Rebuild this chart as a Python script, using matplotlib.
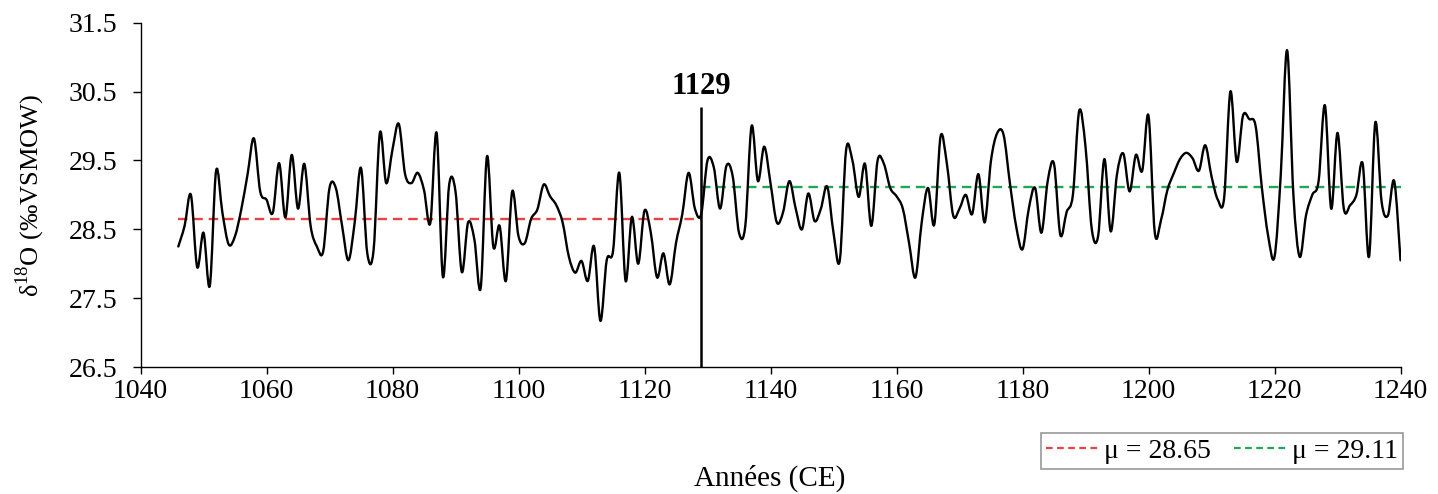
import numpy as np
import matplotlib
matplotlib.use("Agg")
import matplotlib.pyplot as plt
from matplotlib.path import Path
from matplotlib.patches import PathPatch
from matplotlib.lines import Line2D

plt.rcParams['font.family'] = ['Liberation Serif', 'DejaVu Serif']
plt.rcParams['mathtext.fontset'] = 'custom'
plt.rcParams['mathtext.rm'] = 'Liberation Serif'

# ---- data ----
start_year = 1046
d18o = [
    28.25, 28.55, 29.00, 27.95,
    28.45, 27.68, 29.35, 28.74, 28.28, 28.40, 28.79, 29.30, 29.82, 29.05,
    28.93, 28.74, 29.46, 28.67, 29.58, 28.80, 29.45, 28.55, 28.25, 28.18,
    29.10, 29.10, 28.55, 28.05, 28.60, 29.39, 28.15, 28.20, 29.90, 29.17,
    29.66, 30.03, 29.30, 29.17, 29.32, 29.07, 28.59, 29.90, 27.81, 29.15,
    29.05, 27.88, 28.60, 28.35, 27.65, 29.56, 28.25, 28.55, 27.75, 29.05,
    28.40, 28.30, 28.65, 28.79, 29.15, 28.98, 28.85, 28.60, 28.10, 27.87,
    28.04, 27.75, 28.25, 27.17, 28.05, 28.18, 29.32, 27.75, 28.68, 28.00,
    28.77, 28.45, 27.80, 28.15, 27.70, 28.30, 28.72, 29.32, 28.80, 28.72,
    29.50, 29.40, 28.80, 29.42, 29.27, 28.45, 28.55, 30.00, 29.20, 29.70,
    29.17, 28.60, 28.75, 29.20, 28.80, 28.50, 29.02, 28.62, 28.80, 29.12,
    28.45, 28.05, 29.65, 29.50, 28.97, 29.45, 28.55, 29.50, 29.45, 29.10,
    28.98, 28.80, 28.30, 27.80, 28.60, 29.10, 28.57, 29.85, 29.45, 28.70,
    28.80, 29.00, 28.72, 29.30, 28.60, 29.50, 29.90, 29.87, 29.17, 28.54,
    28.21, 28.80, 29.10, 28.45, 29.20, 29.45, 28.42, 28.75, 29.00, 30.22,
    29.70, 28.50, 28.40, 29.52, 28.47, 29.30, 29.60, 29.05, 29.58, 29.35,
    30.15, 28.45, 28.64, 29.07, 29.31, 29.52, 29.61, 29.53, 29.35, 29.72,
    29.27, 28.93, 28.95, 30.50, 29.48, 30.15, 30.10, 30.00, 29.10, 28.40,
    28.10, 29.30, 31.10, 29.00, 28.10, 28.70, 29.00, 29.20, 30.30, 28.80,
    29.90, 28.80, 28.85, 29.00, 29.45, 28.10, 30.05, 28.90, 28.70, 29.20, 28.05,
]
years = np.arange(start_year, start_year + len(d18o))

break_year = 1129
break_label = "1129"
mean_before = 28.65
mean_after = 29.11
legend_labels = ["\u03bc = 28.65", "\u03bc = 29.11"]
x_ticks = list(range(1040, 1241, 20))
y_ticks = [26.5, 27.5, 28.5, 29.5, 30.5, 31.5]
x_label = "Ann\u00e9es (CE)"
y_label = "\u03b4$^{\\mathrm{18}}$O (\u2030VSMOW)"

RED = '#E8443F'
GREEN = '#22A45A'

# ---- figure ----
fig = plt.figure(figsize=(14.38, 4.94), dpi=100)
ax = fig.add_axes([140.5 / 1438, 1 - 367 / 494, 1260 / 1438, (367 - 22.7) / 494])

# smoothed line (Catmull-Rom style cubic Bezier through the data points)
pts = np.column_stack([years, d18o]).astype(float)
verts = [tuple(pts[0])]
codes = [Path.MOVETO]
n = len(pts)
for i in range(n - 1):
    p0 = pts[i - 1] if i > 0 else pts[i]
    p1 = pts[i]
    p2 = pts[i + 1]
    p3 = pts[i + 2] if i + 2 < n else pts[i + 1]
    c1 = p1 + (p2 - p0) / 6.0
    c2 = p2 - (p3 - p1) / 6.0
    verts += [tuple(c1), tuple(c2), tuple(p2)]
    codes += [Path.CURVE4, Path.CURVE4, Path.CURVE4]
ax.add_patch(PathPatch(Path(verts, codes), facecolor='none', edgecolor='black',
                       lw=1.7, zorder=3, capstyle='round', joinstyle='round'))

# mean lines
ax.hlines(mean_before, years[0], break_year, colors=RED, linestyles=(0, (4, 2.5)),
          lw=1.7, zorder=2)
ax.hlines(mean_after, break_year, years[-1], colors=GREEN, linestyles=(0, (4, 2.5)),
          lw=1.7, zorder=2)

# break line and label
ax.vlines(break_year, 26.5, 30.28, colors='black', lw=1.8, zorder=4)
ax.text(break_year, 30.36, break_label, ha='center', va='bottom',
        fontsize=22, fontweight='bold')

ax.set_xlim(1040, 1240)
ax.set_ylim(26.5, 31.5)
ax.set_xticks(x_ticks)
ax.set_yticks(y_ticks)
ax.set_yticklabels([f"{v:.1f}" for v in y_ticks])
for s in ['top', 'right']:
    ax.spines[s].set_visible(False)
for s in ['left', 'bottom']:
    ax.spines[s].set_linewidth(1.0)
ax.tick_params(axis='y', direction='out', length=6, width=1.0, pad=11, labelsize=20)
ax.tick_params(axis='x', direction='out', length=5, width=1.0, pad=4, labelsize=20)

fig.text(770 / 1438, 1 - 478 / 494, x_label, ha='center', va='center', fontsize=21)
fig.text(30 / 1438, 1 - 195 / 494, y_label, ha='center', va='center',
         rotation=90, fontsize=19)

handles = [Line2D([], [], color=RED, lw=1.6, ls=(0, (3, 2))),
           Line2D([], [], color=GREEN, lw=1.6, ls=(0, (3, 2)))]
leg = fig.legend(handles, legend_labels, loc='center',
                 bbox_to_anchor=(1222 / 1438, 1 - 451 / 494), ncol=2,
                 fontsize=20, frameon=True, fancybox=False, edgecolor='#7f7f7f',
                 handlelength=1.9, handletextpad=0.2, columnspacing=0.8,
                 borderpad=0.2, borderaxespad=0)
leg.get_frame().set_linewidth(1.2)

fig.savefig("out.png", dpi=100)
